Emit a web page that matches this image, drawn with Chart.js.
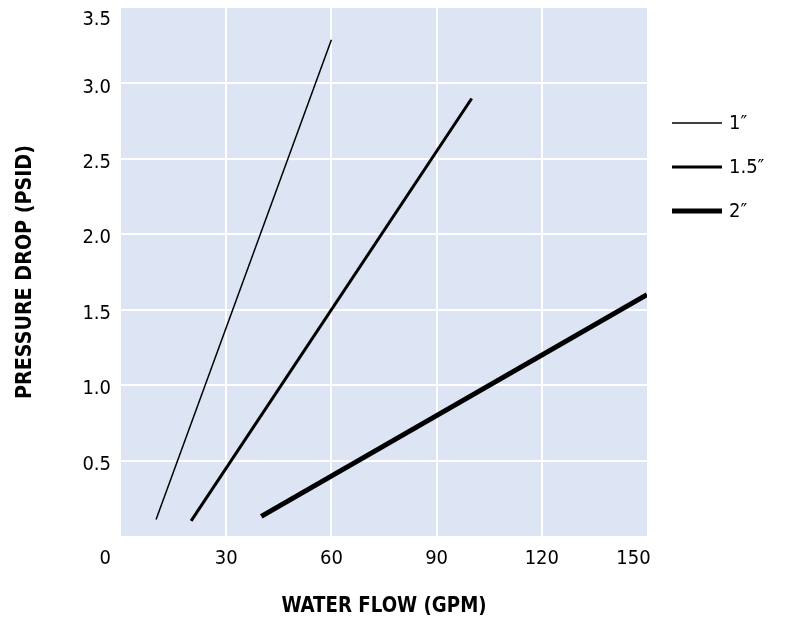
<!DOCTYPE html>
<html>
<head>
<meta charset="utf-8">
<script src="https://cdn.jsdelivr.net/npm/chart.js@4.4.1/dist/chart.umd.min.js"></script>
<style>
  html, body { margin: 0; padding: 0; background: #ffffff; }
  #wrap { width: 791px; height: 621px; }
</style>
</head>
<body>
<div id="wrap"><canvas id="c" width="791" height="621"></canvas></div>
<script>
// ---- data ----
const seriesLabels = ['1″', '1.5″', '2″'];
const flow1 = [10, 60];
const drop1 = [0.11, 3.29];
const flow15 = [20, 100];
const drop15 = [0.1, 2.9];
const flow2 = [40, 150];
const drop2 = [0.13, 1.6];
const xTicks = [0, 30, 60, 90, 120, 150];
const yTicks = [0, 0.5, 1.0, 1.5, 2.0, 2.5, 3.0, 3.5];
const xTitle = 'WATER FLOW (GPM)';
const yTitle = 'PRESSURE DROP (PSID)';

function pts(xs, ys) { return xs.map((x, i) => ({ x: x, y: ys[i] })); }

const FONT = '"DejaVu Sans Condensed", "Liberation Sans Narrow", "Liberation Sans", sans-serif';
const BG = '#dde4f3';

const plotBg = {
  id: 'plotBg',
  beforeDraw(chart) {
    const a = chart.chartArea, ctx = chart.ctx;
    ctx.save();
    ctx.fillStyle = BG;
    ctx.fillRect(a.left, a.top, a.right - a.left, a.bottom - a.top);
    ctx.restore();
  }
};

const extras = {
  id: 'extras',
  afterDraw(chart) {
    const a = chart.chartArea, ctx = chart.ctx;
    ctx.save();
    ctx.fillStyle = '#000';
    // origin label
    ctx.font = '20px ' + FONT;
    ctx.textAlign = 'right';
    ctx.textBaseline = 'middle';
    ctx.fillText(String(xTicks[0]), a.left - 10, a.bottom + 23);
    // axis titles
    ctx.font = 'bold 22px ' + FONT;
    ctx.textAlign = 'center';
    ctx.textBaseline = 'middle';
    ctx.save();
    ctx.translate((a.left + a.right) / 2, 606);
    ctx.scale(0.92, 1);
    ctx.fillText(xTitle, 0, 0);
    ctx.restore();
    ctx.save();
    ctx.translate(25, (a.top + a.bottom) / 2);
    ctx.rotate(-Math.PI / 2);
    ctx.scale(0.965, 1);
    ctx.fillText(yTitle, 0, 0);
    ctx.restore();
    // legend
    const ys = [123, 167, 211];
    ctx.font = '20px ' + FONT;
    ctx.textAlign = 'left';
    chart.data.datasets.forEach((ds, i) => {
      ctx.beginPath();
      ctx.strokeStyle = ds.borderColor;
      ctx.lineWidth = ds.borderWidth;
      ctx.moveTo(672, ys[i]);
      ctx.lineTo(722, ys[i]);
      ctx.stroke();
      ctx.fillText(ds.label, 729, ys[i] + 1);
    });
    ctx.restore();
  }
};

const gridColor = (ctx, lo, hi) => {
  const v = ctx.tick ? ctx.tick.value : null;
  if (v === lo || v === hi) return 'rgba(0,0,0,0)';
  return '#ffffff';
};

const xMax = xTicks[xTicks.length - 1];
const yMax = yTicks[yTicks.length - 1];

new Chart(document.getElementById('c'), {
  type: 'scatter',
  data: {
    datasets: [
      { label: seriesLabels[0], data: pts(flow1, drop1), showLine: true, borderColor: '#000', backgroundColor: '#000', borderWidth: 1.5, pointRadius: 0 },
      { label: seriesLabels[1], data: pts(flow15, drop15), showLine: true, borderColor: '#000', backgroundColor: '#000', borderWidth: 3, pointRadius: 0 },
      { label: seriesLabels[2], data: pts(flow2, drop2), showLine: true, borderColor: '#000', backgroundColor: '#000', borderWidth: 5, pointRadius: 0 }
    ]
  },
  options: {
    responsive: false,
    animation: false,
    devicePixelRatio: 1,
    layout: { padding: { left: 0, top: 8, right: 144, bottom: 0 } },
    plugins: { legend: { display: false }, tooltip: { enabled: false } },
    scales: {
      x: {
        type: 'linear',
        min: xTicks[0], max: xMax,
        afterBuildTicks(s) { s.ticks = xTicks.map(v => ({ value: v })); },
        afterFit(s) { s.height = 85; s.paddingLeft = 0; s.paddingRight = 0; },
        border: { display: false },
        grid: { color: c => gridColor(c, xTicks[0], xMax), lineWidth: 2, drawTicks: false },
        ticks: {
          padding: 11, color: '#000', maxRotation: 0,
          font: { family: FONT, size: 20 },
          // last label sits flush with the plot's right edge
          callback: v => v === xTicks[0] ? '' : (v === xMax ? String(v) + '\u2002\u2002\u2002' : String(v))
        }
      },
      y: {
        type: 'linear',
        min: yTicks[0], max: yMax,
        afterBuildTicks(s) { s.ticks = yTicks.map(v => ({ value: v })); },
        afterFit(s) { s.width = 121; s.paddingTop = 0; s.paddingBottom = 0; },
        border: { display: false },
        grid: { color: c => gridColor(c, yTicks[0], yMax), lineWidth: 2, drawTicks: false },
        ticks: {
          padding: 10, color: '#000', labelOffset: 4,
          font: { family: FONT, size: 20, lineHeight: 0.75 },
          // top label pushed down inside the plot's top edge
          callback: v => v === yTicks[0] ? '' : (v === yMax ? ['', Number(v).toFixed(1)] : Number(v).toFixed(1))
        }
      }
    }
  },
  plugins: [plotBg, extras]
});
</script>
</body>
</html>
